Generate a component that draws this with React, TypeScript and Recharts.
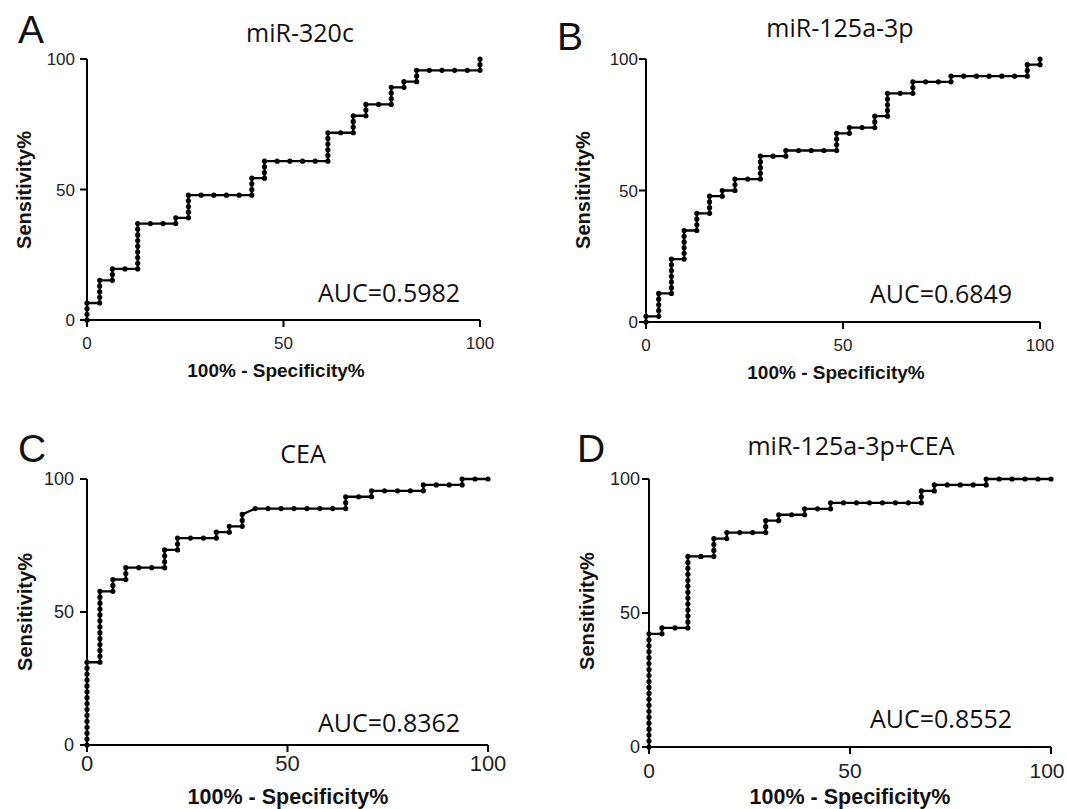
import { Line, LineChart, XAxis, YAxis } from "recharts";

// every curve comes from the same 31 controls
const CONTROLS = 31;

// true-positive counts at each false-positive count (index = 0..31)
const tpA = [
  [0, 1, 2, 3],
  [3, 4, 5, 6, 7],
  [7, 8, 9],
  [9],
  [9, 10, 11, 12, 13, 14, 15, 16, 17],
  [17],
  [17],
  [17, 18],
  [18, 19, 20, 21, 22],
  [22],
  [22],
  [22],
  [22],
  [22, 23, 24, 25],
  [25, 26, 27, 28],
  [28],
  [28],
  [28],
  [28],
  [28, 29, 30, 31, 32, 33],
  [33],
  [33, 34, 35, 36],
  [36, 37, 38],
  [38],
  [38, 39, 40, 41],
  [41, 42],
  [42, 43, 44],
  [44],
  [44],
  [44],
  [44],
  [44, 45, 46],
];

const tpB = [
  [0, 1],
  [1, 2, 3, 4, 5],
  [5, 6, 7, 8, 9, 10, 11],
  [11, 12, 13, 14, 15, 16],
  [16, 17, 18, 19],
  [19, 20, 21, 22],
  [22, 23],
  [23, 24, 25],
  [25],
  [25, 26, 27, 28, 29],
  [29],
  [29, 30],
  [30],
  [30],
  [30],
  [30, 31, 32, 33],
  [33, 34],
  [34],
  [34, 35, 36],
  [36, 37, 38, 39, 40],
  [40],
  [40, 41, 42],
  [42],
  [42],
  [42, 43],
  [43],
  [43],
  [43],
  [43],
  [43],
  [43, 44, 45],
  [45, 46],
];

const tpC = [
  [0, 1, 2, 3, 4, 5, 6, 7, 8, 9, 10, 11, 12, 13, 14],
  [14, 15, 16, 17, 18, 19, 20, 21, 22, 23, 24, 25, 26],
  [26, 27, 28],
  [28, 29, 30],
  [30],
  [30],
  [30, 31, 32, 33],
  [33, 34, 35],
  [35],
  [35],
  [35, 36],
  [36, 37],
  [37, 38, 39],
  [40],
  [40],
  [40],
  [40],
  [40],
  [40],
  [40],
  [40, 41, 42],
  [42],
  [42, 43],
  [43],
  [43],
  [43],
  [43, 44],
  [44],
  [44],
  [44, 45],
  [45],
  [45],
];

const tpD = [
  [0, 1, 2, 3, 4, 5, 6, 7, 8, 9, 10, 11, 12, 13, 14, 15, 16, 17, 18, 19],
  [19, 20],
  [20],
  [20, 21, 22, 23, 24, 25, 26, 27, 28, 29, 30, 31, 32],
  [32],
  [32, 33, 34, 35],
  [35, 36],
  [36],
  [36],
  [36, 37, 38],
  [38, 39],
  [39],
  [39, 40],
  [40],
  [40, 41],
  [41],
  [41],
  [41],
  [41],
  [41],
  [41],
  [41, 42, 43],
  [43, 44],
  [44],
  [44],
  [44],
  [44, 45],
  [45],
  [45],
  [45],
  [45],
  [45],
];

const axisTicks = [0, 50, 100];

function toPoints(cols: number[][], cases: number) {
  const pts: { x: number; y: number }[] = [];
  cols.forEach((tps, fp) =>
    tps.forEach((tp) => pts.push({ x: (fp / CONTROLS) * 100, y: (tp / cases) * 100 }))
  );
  return pts;
}

const ARIAL = "'Liberation Sans', Arial, sans-serif";
const CALIBRI = "'Open Sans', sans-serif";

// lastShift nudges the "100" label left where it would run off the page
const panels = [
  { key: "A", data: toPoints(tpA, 46), x0: 87, x1: 480, y0: 59, y1: 320, yFont: 17, xFont: 17, yMargin: 5, xMargin: 10, lastShift: 0 },
  { key: "B", data: toPoints(tpB, 46), x0: 646, x1: 1040, y0: 59, y1: 322, yFont: 17, xFont: 17, yMargin: 1, xMargin: 10, lastShift: 0 },
  { key: "C", data: toPoints(tpC, 45), x0: 87, x1: 488, y0: 479, y1: 745, yFont: 18, xFont: 22, yMargin: 6, xMargin: 3, lastShift: 0 },
  { key: "D", data: toPoints(tpD, 45), x0: 649, x1: 1051, y0: 479, y1: 747, yFont: 18, xFont: 21, yMargin: 2, xMargin: 9, lastShift: -4 },
];

const axisStyle = { stroke: "#000", strokeWidth: 2 };

function RocPanel({ p }: { p: (typeof panels)[number] }) {
  const yw = 70;
  const top = 15;
  const right = 20;
  const xh = 45;

  const xTick = (props: any) => {
    const { x, y, payload } = props;
    const shift = payload.value === 100 ? p.lastShift : 0;
    return (
      <text
        x={x + shift}
        y={y}
        dy="0.71em"
        textAnchor="middle"
        fontSize={p.xFont}
        fill="#222"
        fontFamily={ARIAL}
      >
        {payload.value}
      </text>
    );
  };

  return (
    <div style={{ position: "absolute", left: p.x0 - yw, top: p.y0 - top }}>
      <LineChart
        width={p.x1 - p.x0 + yw + right}
        height={p.y1 - p.y0 + top + xh}
        data={p.data}
        margin={{ top, right, bottom: 0, left: 0 }}
      >
        <XAxis
          dataKey="x"
          type="number"
          domain={[0, 100]}
          ticks={axisTicks}
          interval={0}
          height={xh}
          tickSize={7}
          tickMargin={p.xMargin}
          axisLine={axisStyle}
          tickLine={axisStyle}
          tick={xTick}
        />
        <YAxis
          type="number"
          domain={[0, 100]}
          ticks={axisTicks}
          interval={0}
          width={yw}
          tickSize={7}
          tickMargin={p.yMargin}
          axisLine={axisStyle}
          tickLine={axisStyle}
          tick={{ fontSize: p.yFont, fill: "#222", fontFamily: ARIAL }}
        />
        <Line
          dataKey="y"
          type="linear"
          stroke="#000"
          strokeWidth={2.3}
          dot={{ r: 2.6, fill: "#000", stroke: "none" }}
          isAnimationActive={false}
        />
      </LineChart>
    </div>
  );
}

const letters = [
  { t: "A", x: 18, y: 43 },
  { t: "B", x: 557, y: 50 },
  { t: "C", x: 18, y: 462 },
  { t: "D", x: 577, y: 462 },
];

const titles = [
  { t: "miR-320c", x: 300, y: 42 },
  { t: "miR-125a-3p", x: 840, y: 37 },
  { t: "CEA", x: 303, y: 463 },
  { t: "miR-125a-3p+CEA", x: 851, y: 455 },
];

const aucs = [
  { t: "AUC=0.5982", x: 318, y: 302 },
  { t: "AUC=0.6849", x: 870, y: 303 },
  { t: "AUC=0.8362", x: 318, y: 732 },
  { t: "AUC=0.8552", x: 870, y: 728 },
];

const yTitles = [
  { x: 24, y: 190 },
  { x: 583, y: 190 },
  { x: 25, y: 612 },
  { x: 587, y: 611 },
];

const xTitles = [
  { x: 276, y: 377, size: 19 },
  { x: 836, y: 379, size: 19 },
  { x: 288, y: 804, size: 21.5 },
  { x: 850, y: 804, size: 21.5 },
];

export default function App() {
  return (
    <div
      style={{
        position: "absolute",
        left: 0,
        top: 0,
        width: 1067,
        height: 809,
        background: "#fff",
        overflow: "hidden",
      }}
    >
      {panels.map((p) => (
        <RocPanel key={p.key} p={p} />
      ))}
      <svg width={1067} height={809} style={{ position: "absolute", left: 0, top: 0, pointerEvents: "none" }}>
        {letters.map((l) => (
          <text key={l.t} x={l.x} y={l.y} fontFamily={ARIAL} fontSize={39} fill="#111">
            {l.t}
          </text>
        ))}
        {titles.map((l) => (
          <text key={l.t} x={l.x} y={l.y} fontFamily={CALIBRI} fontSize={25} fill="#111" textAnchor="middle">
            {l.t}
          </text>
        ))}
        {aucs.map((l) => (
          <text key={l.t} x={l.x} y={l.y} fontFamily={CALIBRI} fontSize={25} fill="#111">
            {l.t}
          </text>
        ))}
        {yTitles.map((l, i) => (
          <text
            key={i}
            x={l.x}
            y={l.y}
            fontFamily={ARIAL}
            fontSize={20}
            fontWeight="bold"
            fill="#111"
            textAnchor="middle"
            dominantBaseline="central"
            transform={`rotate(-90 ${l.x} ${l.y})`}
          >
            Sensitivity%
          </text>
        ))}
        {xTitles.map((l, i) => (
          <text key={i} x={l.x} y={l.y} fontFamily={ARIAL} fontSize={l.size} fontWeight="bold" fill="#111" textAnchor="middle">
            100% - Specificity%
          </text>
        ))}
      </svg>
    </div>
  );
}
